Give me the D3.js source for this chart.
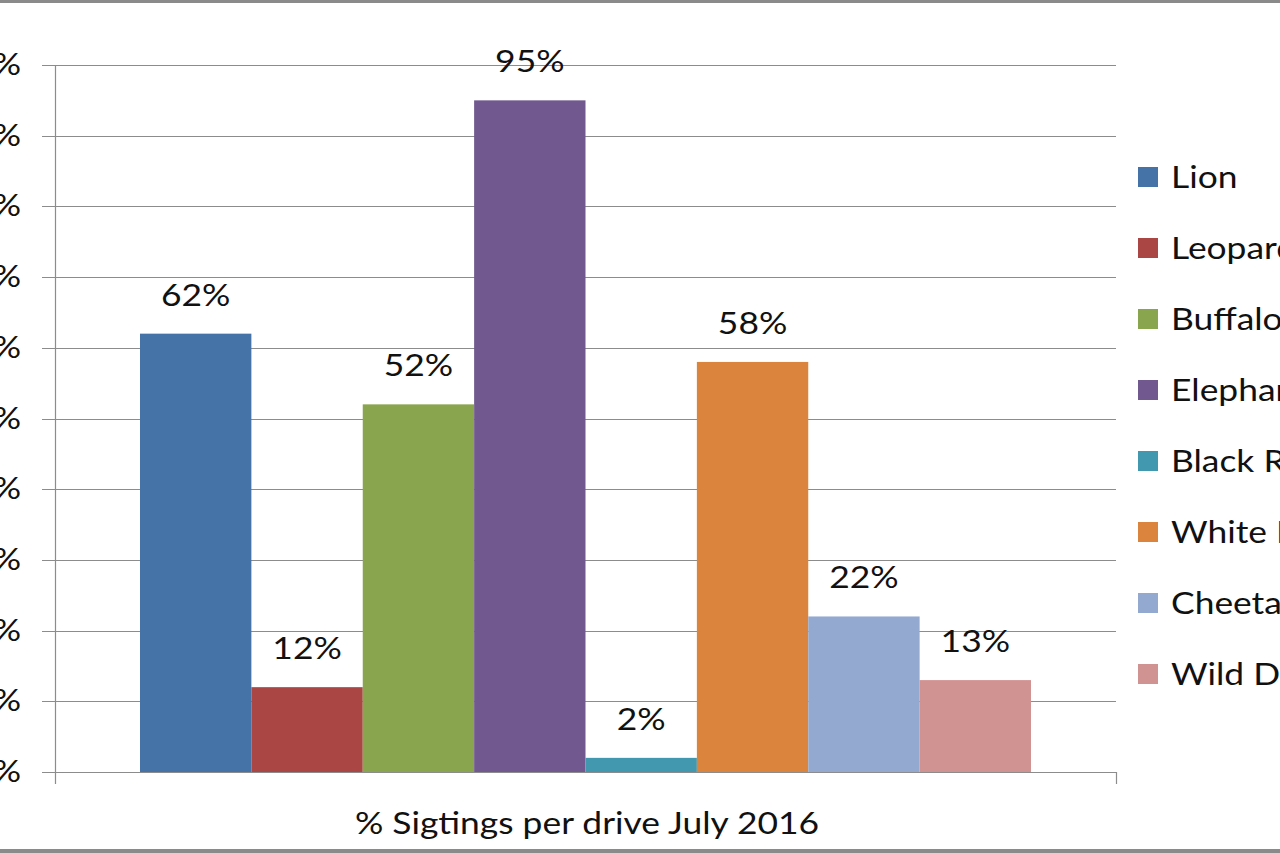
<!DOCTYPE html>
<html>
<head>
<meta charset="utf-8">
<script src="https://cdn.jsdelivr.net/npm/d3@7"></script>
<style>
  html, body { margin: 0; padding: 0; background: #fff; }
  svg { display: block; }
  text { font-family: Lato, "Open Sans", sans-serif; fill: #111; }
</style>
</head>
<body>
<svg id="chart" width="1280" height="853"></svg>
<script>
const categories = ["Lion", "Leopard", "Buffalo", "Elephant", "Black Rhino", "White Rhino", "Cheetah", "Wild Dog"];
const values = [62, 12, 52, 95, 2, 58, 22, 13];
const colors = ["#4572A7", "#AA4643", "#89A54E", "#71588F", "#4198AF", "#DB843D", "#93A9CF", "#D19392"];
const yTicks = [0, 10, 20, 30, 40, 50, 60, 70, 80, 90, 100];
const xAxisLabel = "% Sigtings per drive July 2016";

const svg = d3.select("#chart");
const W = 1280, H = 853;
const SX = 1.18; // horizontal stretch of the reference text
const FS = 30;

// frame lines top and bottom
svg.append("rect").attr("x", 0).attr("y", 0).attr("width", W).attr("height", 3).attr("fill", "#8a8a8a");
svg.append("rect").attr("x", 0).attr("y", 849).attr("width", W).attr("height", 4).attr("fill", "#8a8a8a");

const plot = { left: 55, right: 1116, top: 65, bottom: 772 };

const y = d3.scaleLinear().domain([0, 100]).range([plot.bottom, plot.top]);
const x = d3.scaleBand().domain(categories).range([140, 1031]).paddingInner(0).paddingOuter(0);

const tr = (px, py) => `translate(${px},${py}) scale(${SX},1)`;

// gridlines with left tick marks
svg.append("g").selectAll("line").data(yTicks).join("line")
  .attr("x1", plot.left - 13).attr("x2", plot.right)
  .attr("y1", d => Math.round(y(d)) + 0.5).attr("y2", d => Math.round(y(d)) + 0.5)
  .attr("stroke", "#8c8c8c").attr("stroke-width", 1.2);

// y axis labels
svg.append("g").selectAll("text").data(yTicks).join("text")
  .attr("transform", d => tr(21, y(d) + 10))
  .attr("text-anchor", "end")
  .attr("font-size", FS)
  .text(d => d + "%");

// bars
svg.append("g").selectAll("rect").data(values).join("rect")
  .attr("x", (d, i) => x(categories[i]))
  .attr("width", x.bandwidth())
  .attr("y", d => y(d))
  .attr("height", d => y(0) - y(d))
  .attr("fill", (d, i) => colors[i]);

// axes lines
svg.append("line").attr("x1", plot.left + 0.5).attr("x2", plot.left + 0.5)
  .attr("y1", plot.top).attr("y2", plot.bottom + 12)
  .attr("stroke", "#8c8c8c").attr("stroke-width", 1.2);
svg.append("line").attr("x1", plot.left).attr("x2", plot.right)
  .attr("y1", Math.round(y(0)) + 0.5).attr("y2", Math.round(y(0)) + 0.5)
  .attr("stroke", "#8c8c8c").attr("stroke-width", 1.2);
svg.append("line").attr("x1", plot.right + 0.5).attr("x2", plot.right + 0.5)
  .attr("y1", plot.bottom).attr("y2", plot.bottom + 12)
  .attr("stroke", "#8c8c8c").attr("stroke-width", 1.2);

// data labels
svg.append("g").selectAll("text").data(values).join("text")
  .attr("transform", (d, i) => tr(x(categories[i]) + x.bandwidth() / 2, y(d) - 28))
  .attr("text-anchor", "middle")
  .attr("font-size", FS)
  .text(d => d + "%");

// x axis label
svg.append("text")
  .attr("transform", tr(587, 834))
  .attr("text-anchor", "middle")
  .attr("font-size", FS)
  .text(xAxisLabel);

// legend
const lg = svg.append("g").selectAll("g").data(categories).join("g")
  .attr("transform", (d, i) => `translate(1138, ${177 + i * 71})`);
lg.append("rect").attr("x", 0).attr("y", -10).attr("width", 20).attr("height", 20)
  .attr("fill", (d, i) => colors[i]);
lg.append("text").attr("transform", tr(33, 11))
  .attr("font-size", FS)
  .text(d => d);
</script>
</body>
</html>
